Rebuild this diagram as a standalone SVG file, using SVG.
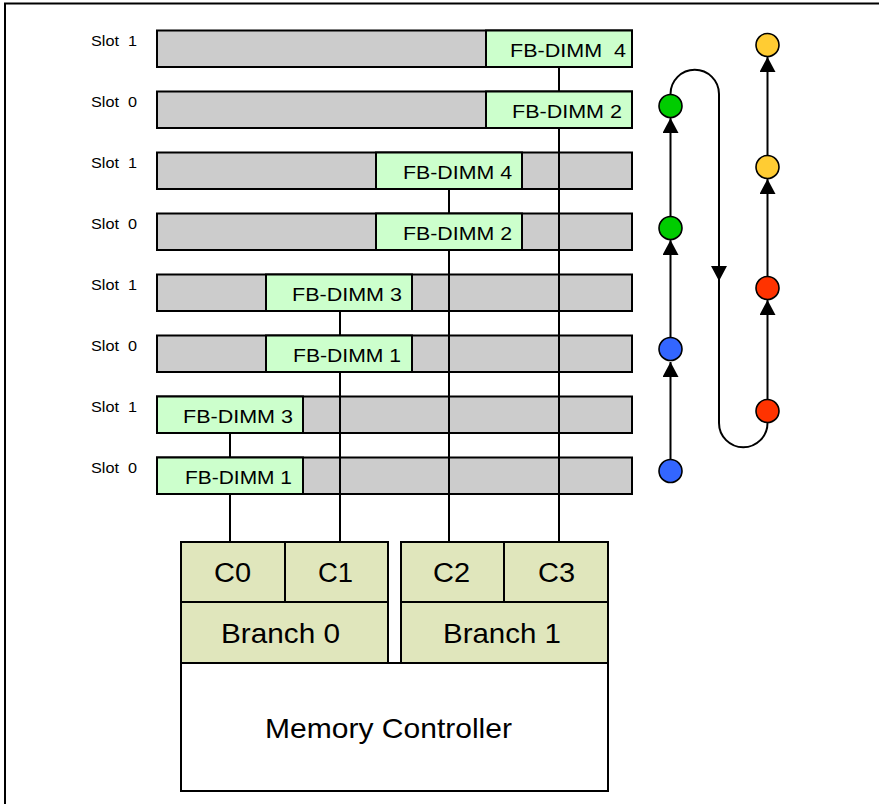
<svg xmlns="http://www.w3.org/2000/svg" width="879" height="804" viewBox="0 0 879 804">
<defs>
<style>
.slot{fill:#cccccc;stroke:#000;stroke-width:2}
.dimm{fill:#ccffcc;stroke:#000;stroke-width:2}
.cell{fill:#e0e6bc;stroke:#000;stroke-width:2}
.mc{fill:#ffffff;stroke:#000;stroke-width:2}
.wire{fill:none;stroke:#000;stroke-width:2}
.flow{fill:none;stroke:#000;stroke-width:2}
.t{font-family:"Liberation Sans",Arial,sans-serif;fill:#000;white-space:pre}
.sl{font-size:15px}
.dt{font-size:19px}
.big{font-size:27px}
.mct{font-size:28px}
.dot{stroke:#000;stroke-width:1.6}
</style>
<marker id="arr" markerUnits="userSpaceOnUse" markerWidth="16" markerHeight="16" refX="15" refY="8" orient="auto">
<path d="M0,0 L15,8 L0,16 Z" fill="#000"/>
</marker>
</defs>
<rect width="879" height="804" fill="#fff"/>
<path d="M5,804 V3.5 H879" fill="none" stroke="#000" stroke-width="2"/>

<g id="slots">
<rect class="slot" x="157" y="30.5" width="475" height="36.5"/>
<rect class="slot" x="157" y="91.5" width="475" height="36.5"/>
<rect class="slot" x="157" y="152.5" width="475" height="36.5"/>
<rect class="slot" x="157" y="213.5" width="475" height="36.5"/>
<rect class="slot" x="157" y="274.5" width="475" height="36.5"/>
<rect class="slot" x="157" y="335.5" width="475" height="36.5"/>
<rect class="slot" x="157" y="396.5" width="475" height="36.5"/>
<rect class="slot" x="157" y="457.5" width="475" height="36.5"/>
<text class="t sl" x="91" y="46" xml:space="preserve" textLength="46" lengthAdjust="spacingAndGlyphs">Slot  1</text>
<text class="t sl" x="91" y="107" xml:space="preserve" textLength="46" lengthAdjust="spacingAndGlyphs">Slot  0</text>
<text class="t sl" x="91" y="168" xml:space="preserve" textLength="46" lengthAdjust="spacingAndGlyphs">Slot  1</text>
<text class="t sl" x="91" y="229" xml:space="preserve" textLength="46" lengthAdjust="spacingAndGlyphs">Slot  0</text>
<text class="t sl" x="91" y="290" xml:space="preserve" textLength="46" lengthAdjust="spacingAndGlyphs">Slot  1</text>
<text class="t sl" x="91" y="351" xml:space="preserve" textLength="46" lengthAdjust="spacingAndGlyphs">Slot  0</text>
<text class="t sl" x="91" y="412" xml:space="preserve" textLength="46" lengthAdjust="spacingAndGlyphs">Slot  1</text>
<text class="t sl" x="91" y="473" xml:space="preserve" textLength="46" lengthAdjust="spacingAndGlyphs">Slot  0</text>
</g>

<g id="connectors">
<path class="wire" d="M559,67 V542"/>
<path class="wire" d="M449,189 V542"/>
<path class="wire" d="M340,311 V542"/>
<path class="wire" d="M230,433 V542"/>
<path class="flow" d="M670.5,459 V362" marker-end="url(#arr)"/>
<path class="flow" d="M670.5,337 V240" marker-end="url(#arr)"/>
<path class="flow" d="M670.5,216 V118" marker-end="url(#arr)"/>
<path class="flow" d="M670.5,94 A24.25,24.25 0 0 1 719,94 V281" marker-end="url(#arr)"/>
<path class="flow" d="M719,280 V423 A24.25,24.25 0 0 0 767.5,423"/>
<path class="flow" d="M767.5,399 V300" marker-end="url(#arr)"/>
<path class="flow" d="M767.5,276 V179" marker-end="url(#arr)"/>
<path class="flow" d="M767.5,155 V57" marker-end="url(#arr)"/>
</g>

<g id="dimm-b1c3-s1">
<rect class="dimm" x="486" y="30.5" width="146" height="36.5"/>
<text class="t dt" x="510" y="57" xml:space="preserve" textLength="116" lengthAdjust="spacingAndGlyphs">FB-DIMM  4</text>
</g>
<g id="dimm-b1c3-s0">
<rect class="dimm" x="486" y="91.5" width="146" height="36.5"/>
<text class="t dt" x="512" y="118" textLength="110" lengthAdjust="spacingAndGlyphs">FB-DIMM 2</text>
</g>
<g id="dimm-b1c2-s1">
<rect class="dimm" x="376" y="152.5" width="146" height="36.5"/>
<text class="t dt" x="403" y="179" textLength="109" lengthAdjust="spacingAndGlyphs">FB-DIMM 4</text>
</g>
<g id="dimm-b1c2-s0">
<rect class="dimm" x="376" y="213.5" width="146" height="36.5"/>
<text class="t dt" x="403" y="240" textLength="109" lengthAdjust="spacingAndGlyphs">FB-DIMM 2</text>
</g>
<g id="dimm-b0c1-s1">
<rect class="dimm" x="266" y="274.5" width="146" height="36.5"/>
<text class="t dt" x="292" y="301" textLength="110" lengthAdjust="spacingAndGlyphs">FB-DIMM 3</text>
</g>
<g id="dimm-b0c1-s0">
<rect class="dimm" x="266" y="335.5" width="146" height="36.5"/>
<text class="t dt" x="293" y="362" textLength="108" lengthAdjust="spacingAndGlyphs">FB-DIMM 1</text>
</g>
<g id="dimm-b0c0-s1">
<rect class="dimm" x="157" y="396.5" width="146" height="36.5"/>
<text class="t dt" x="183" y="423" textLength="110" lengthAdjust="spacingAndGlyphs">FB-DIMM 3</text>
</g>
<g id="dimm-b0c0-s0">
<rect class="dimm" x="157" y="457.5" width="146" height="36.5"/>
<text class="t dt" x="185" y="484" textLength="107" lengthAdjust="spacingAndGlyphs">FB-DIMM 1</text>
</g>

<g id="memory-controller">
<rect class="mc" x="181" y="663" width="427" height="128"/>
<text class="t mct" x="265" y="738" textLength="247" lengthAdjust="spacingAndGlyphs">Memory Controller</text>
</g>
<g id="branch0">
<rect class="cell" x="181" y="602" width="207" height="61"/>
<text class="t mct" x="221" y="643" textLength="119" lengthAdjust="spacingAndGlyphs">Branch 0</text>
</g>
<g id="c0">
<rect class="cell" x="181" y="542" width="104" height="60"/>
<text class="t big" x="214" y="582" textLength="37" lengthAdjust="spacingAndGlyphs">C0</text>
</g>
<g id="c1">
<rect class="cell" x="285" y="542" width="103" height="60"/>
<text class="t big" x="318" y="582" textLength="35" lengthAdjust="spacingAndGlyphs">C1</text>
</g>
<g id="branch1">
<rect class="cell" x="401" y="602" width="207" height="61"/>
<text class="t mct" x="443" y="643" textLength="118" lengthAdjust="spacingAndGlyphs">Branch 1</text>
</g>
<g id="c2">
<rect class="cell" x="401" y="542" width="103" height="60"/>
<text class="t big" x="433" y="582" textLength="37" lengthAdjust="spacingAndGlyphs">C2</text>
</g>
<g id="c3">
<rect class="cell" x="504" y="542" width="104" height="60"/>
<text class="t big" x="538" y="582" textLength="37" lengthAdjust="spacingAndGlyphs">C3</text>
</g>

<g id="dot-blue-1"><circle class="dot" cx="670.5" cy="471" r="11.5" fill="#3366ff"/></g>
<g id="dot-blue-2"><circle class="dot" cx="670.5" cy="349" r="11.5" fill="#3366ff"/></g>
<g id="dot-green-1"><circle class="dot" cx="670.5" cy="228" r="11.5" fill="#00cc00"/></g>
<g id="dot-green-2"><circle class="dot" cx="670.5" cy="106" r="11.5" fill="#00cc00"/></g>
<g id="dot-red-1"><circle class="dot" cx="767.5" cy="411" r="11.5" fill="#ff3300"/></g>
<g id="dot-red-2"><circle class="dot" cx="767.5" cy="288" r="11.5" fill="#ff3300"/></g>
<g id="dot-yellow-1"><circle class="dot" cx="767.5" cy="167" r="11.5" fill="#ffcc33"/></g>
<g id="dot-yellow-2"><circle class="dot" cx="767.5" cy="45" r="11.5" fill="#ffcc33"/></g>
</svg>
